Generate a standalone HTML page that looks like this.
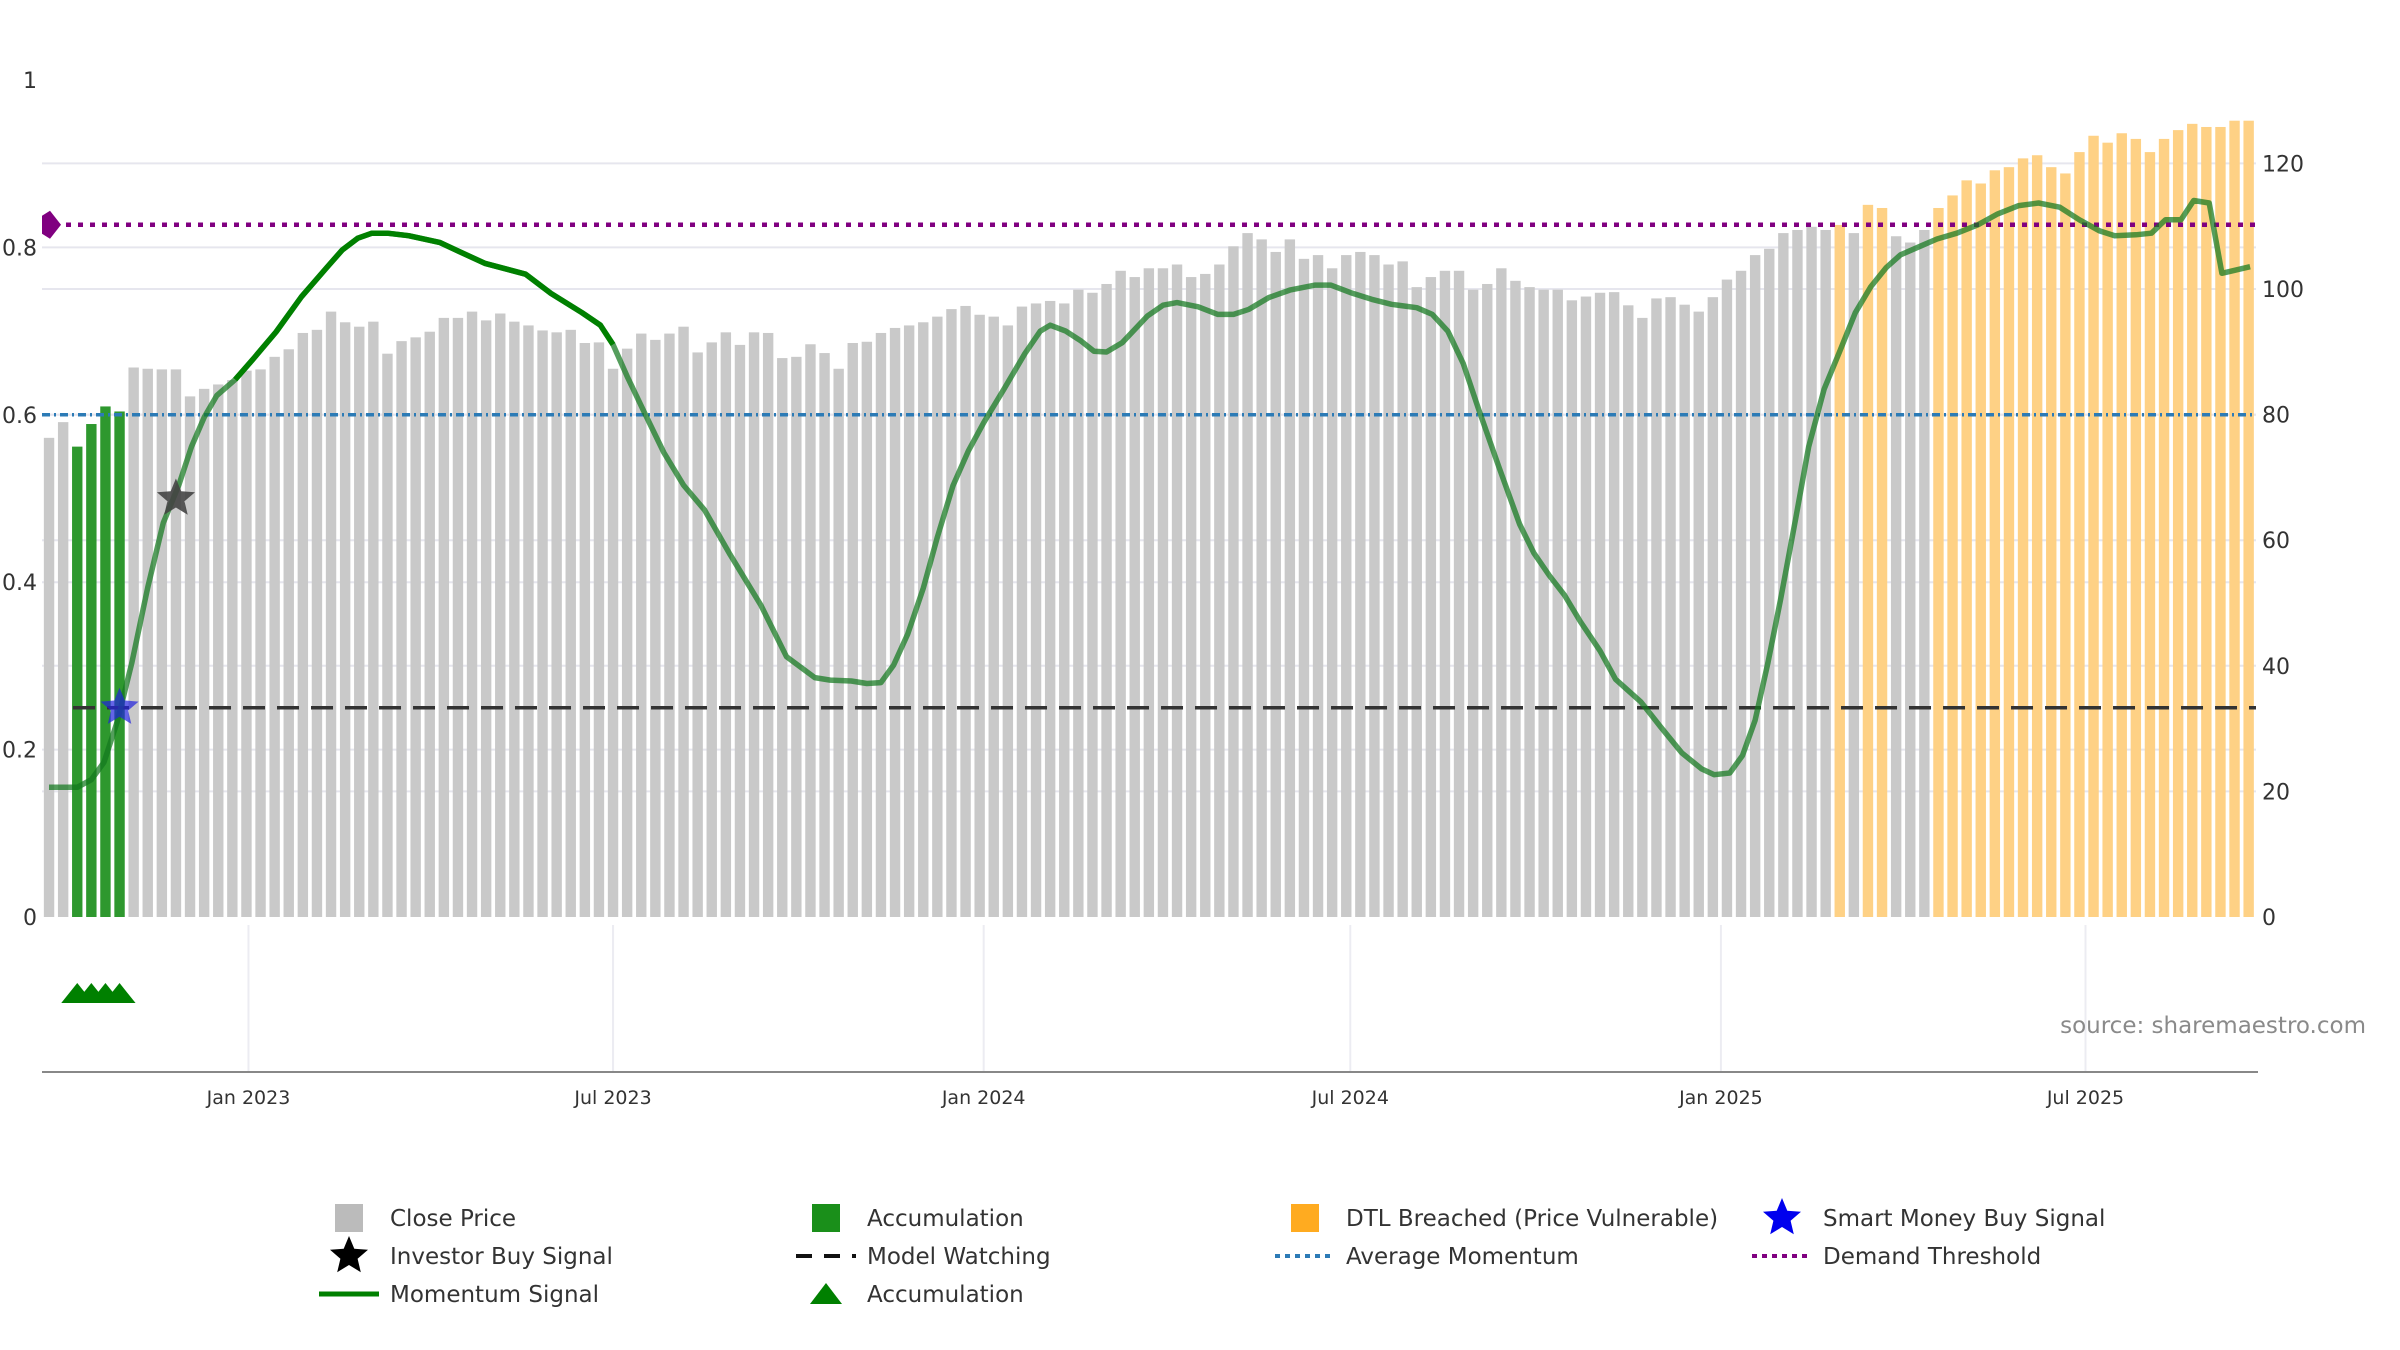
<!DOCTYPE html>
<html><head><meta charset="utf-8"><style>
body{margin:0;background:#fff;}
svg{display:block;font-family:"DejaVu Sans","Liberation Sans",sans-serif;}
</style></head><body>
<svg id="chart" width="2400" height="1350" viewBox="0 0 2400 1350" xmlns="http://www.w3.org/2000/svg">
<g id="grid"></g>
<g id="bars"></g>
<g id="refs"></g>
<g id="lines"></g>
<g id="marks"></g>
<g id="axes"></g>
<text x="2366" y="1033" text-anchor="end" font-size="23" fill="#8a8a8a">source: sharemaestro.com</text>
<g id="legend"></g>
</svg>
<script>
const prices = [76.3,78.8,74.9,78.5,81.3,80.5,87.5,87.3,87.2,87.2,
82.9,84.1,84.8,85.5,87.0,87.2,89.2,90.4,93.0,93.5,
96.4,94.7,94.0,94.8,89.7,91.7,92.3,93.2,95.4,95.4,
96.4,95.0,96.1,94.8,94.2,93.4,93.1,93.5,91.4,91.5,
87.3,90.5,92.9,91.9,92.9,94.0,89.9,91.5,93.1,91.1,
93.1,93.0,89.0,89.2,
91.2,89.8,87.3,91.4,91.6,93.0,93.8,94.2,94.7,95.6,
96.8,97.3,95.9,95.6,94.2,97.2,97.7,98.1,97.7,99.9,
99.4,100.8,102.9,101.9,103.3,103.3,103.9,101.9,102.4,103.9,
106.8,108.9,107.9,105.9,107.9,104.8,105.4,103.3,105.4,105.9,
105.4,103.9,104.4,100.3,101.9,102.9,102.9,99.9,100.8,103.3,
101.3,100.3,99.9,99.9,98.2,98.8,99.4,
99.5,97.4,95.4,98.5,98.7,97.5,96.4,98.7,101.5,102.9,
105.4,106.4,108.9,109.4,109.9,109.4,110.2,108.9,113.4,112.9,
108.4,107.4,109.4,112.9,114.9,117.3,116.8,118.9,119.4,120.8,
121.3,119.4,118.4,121.8,124.4,123.3,124.8,123.9,121.8,123.9,
125.3,126.3,125.8,125.8,126.8,126.8];
const accumBars = [2,3,4,5];
const dtlBars = [127,129,130,134,135,136,137,138,139,140,141,142,143,144,145,146,147,148,149,150,151,152,153,154,155,156];
const momX = [0,2,3,3.9,4.85,5.86,7,8.1,9.2,10.1,11,11.9,13.2,14.6,16.1,17.9,19.7,20.8,21.9,22.9,24,25.5,27.7,29.1,30.9,33.8,35.6,37.8,39.1,40,41,42.3,43.6,45,46.5,48.3,50.5,52.3,
54.3,55.4,56.9,58,59,59.9,60.9,62,63,64.1,65.2,66.3,67.7,69.2,70.3,71,72.1,73.2,74.1,75,76.1,77.9,79,80,81.5,82.9,84,85.1,86.5,88,89.8,90.9,92.3,93.8,95.2,97,98.1,99.2,100.3,101.4,102.8,104.3,105.3,106.4,107.5,108.6,
110,111.1,112.9,114.3,115.8,117.2,118.1,119.2,120.1,121,121.9,122.8,123.9,124.8,125.9,127,128.1,129.2,130.3,131.3,132.8,133.9,135.3,136.8,138.2,139.7,141.1,142.6,144,145.4,146.5,148,149.1,150.1,151.2,152.1,153.2,154.1,156.1];
const momY = [0.155,0.155,0.164,0.185,0.234,0.303,0.394,0.471,0.516,0.562,0.597,0.623,0.642,0.669,0.699,0.741,0.776,0.797,0.811,0.817,0.817,0.814,0.806,0.795,0.781,0.768,0.745,0.722,0.707,0.684,0.646,0.6,0.555,0.516,0.486,0.433,0.372,0.311,
0.286,0.283,0.282,0.279,0.28,0.301,0.338,0.393,0.454,0.515,0.557,0.591,0.63,0.673,0.7,0.707,0.7,0.688,0.676,0.675,0.686,0.718,0.731,0.734,0.729,0.72,0.72,0.726,0.74,0.749,0.755,0.755,0.746,0.738,0.732,0.728,0.72,0.7,0.661,0.606,0.539,0.469,0.435,0.408,0.384,0.353,
0.318,0.284,0.257,0.227,0.196,0.177,0.17,0.172,0.193,0.235,0.303,0.379,0.478,0.562,0.631,0.676,0.722,0.753,0.776,0.791,0.802,0.81,0.817,0.827,0.84,0.85,0.853,0.848,0.833,0.82,0.814,0.815,0.817,0.833,0.833,0.856,0.853,0.769,0.777];
const demandThreshold = 0.827;
const avgMomentum = 0.6;
const modelWatching = 0.25;
const investorBuy = [{i:9, v:0.5}];
const smartMoneyBuy = [{i:5, v:0.25}];
const leftTicks = [0,0.2,0.4,0.6,0.8,1];
const leftTickLabels = ["0","0.2","0.4","0.6","0.8","1"];
const rightTicks = [0,20,40,60,80,100,120];
const xTickDates = ["2023-01-01","2023-07-01","2024-01-01","2024-07-01","2025-01-01","2025-07-01"];
const xTickLabels = ["Jan 2023","Jul 2023","Jan 2024","Jul 2024","Jan 2025","Jul 2025"];
const startDate = "2022-09-24";

const NS="http://www.w3.org/2000/svg";
const L=42, R=2256, Y0=917, STEP=14.1;
const xIdx = i => L + (i+0.5)*STEP;
const yL = v => Y0 - v*837;
const yR = v => Y0 - v*6.28;
const xDate = d => xIdx((new Date(d) - new Date(startDate))/(7*86400000));
function mk(tag, attrs, parent){const e=document.createElementNS(NS,tag);for(const k in attrs)e.setAttribute(k,attrs[k]);parent.appendChild(e);return e;}
const G=id=>document.getElementById(id);

// grid
leftTicks.slice(1,5).forEach(v=>{const l=mk('line',{x1:L,x2:R,y1:yL(v),y2:yL(v),stroke:'#e6e6ee','stroke-width':2},G('grid'));

});
rightTicks.slice(1).forEach(v=>{const l=mk('line',{x1:L,x2:R,y1:yR(v),y2:yR(v),stroke:'#e6e6ee','stroke-width':2},G('grid'));

});
xTickDates.forEach(d=>{const l=mk('line',{x1:xDate(d),x2:xDate(d),y1:925,y2:1071,stroke:'#ececf2','stroke-width':2},G('grid'));

});

// bars
prices.forEach((p,i)=>{
  let fill='#c9c9c9', name='close-price-bar';
  if(accumBars.includes(i)){fill='#2e982e';name='accumulation-bar';}
  else if(dtlBars.includes(i)){fill='#fed185';name='dtl-breached-bar';}
  const r=mk('rect',{x:xIdx(i)-5.2,y:yR(p),width:10.4,height:Y0-yR(p),fill:fill},G('bars'));
  
  
});

// reference lines
const ref=[[demandThreshold,'#800080','5 7',4.5,'demand-threshold-line',L],[avgMomentum,'#2c7bb6','8 4 2 4',3.5,'average-momentum-line',L],[modelWatching,'#333','22 12',3.5,'model-watching-line',xIdx(1.7)]];
ref.forEach(r=>{const l=mk('line',{x1:r[5],x2:R,y1:yL(r[0]),y2:yL(r[0]),stroke:r[1],'stroke-dasharray':r[2],'stroke-width':r[3]},G('refs'));

});
const dm=mk('polygon',{points:'',fill:'#800080'},G('refs'));
{const cx=L+7,cy=yL(demandThreshold);dm.setAttribute('points',`${cx-7},${cy-9} ${cx+1},${cy-14} ${cx+12},${cy} ${cx+1},${cy+14} ${cx-7},${cy+9}`);}



// momentum line
const pts=momX.map((x,k)=>`${xIdx(x).toFixed(1)},${yL(momY[k]).toFixed(1)}`);
const ml=mk('polyline',{points:pts.join(' '),fill:'none',stroke:'rgba(20,120,30,0.72)','stroke-width':5.5,'stroke-linejoin':'round'},G('lines'));


const strongPts=momX.map((x,k)=>[x,momY[k]]).filter(p=>p[0]>=12.5&&p[0]<=40).map(p=>`${xIdx(p[0]).toFixed(1)},${yL(p[1]).toFixed(1)}`);
const sl=mk('polyline',{points:strongPts.join(' '),fill:'none',stroke:'#008000','stroke-width':5.5,'stroke-linejoin':'round'},G('lines'));



// markers
function star(cx,cy,r){let s='';for(let k=0;k<10;k++){const a=-Math.PI/2+k*Math.PI/5;const rr=k%2?r*0.45:r;s+=`${(cx+rr*Math.cos(a)).toFixed(1)},${(cy+rr*Math.sin(a)).toFixed(1)} `;}return s;}
investorBuy.forEach(s=>{const p=mk('polygon',{points:star(xIdx(s.i),yL(s.v),20),fill:'#444','fill-opacity':0.9},G('marks'));

});
smartMoneyBuy.forEach(s=>{const p=mk('polygon',{points:star(xIdx(s.i),yL(s.v),20),fill:'#2222dd','fill-opacity':0.7},G('marks'));

});
accumBars.forEach(i=>{const x=xIdx(i),y=993;const t=mk('polygon',{points:`${x-16},${y+10} ${x},${y-10} ${x+16},${y+10}`,fill:'#008000'},G('marks'));

});

// axes
const ax=G('axes');
const base=mk('line',{x1:L,x2:R+2,y1:1072,y2:1072,stroke:'#888','stroke-width':2},ax);


leftTicks.forEach((v,k)=>{const t=mk('text',{x:37,y:yL(v)+8,'text-anchor':'end','font-size':22,fill:'#333'},ax);t.textContent=leftTickLabels[k];

});
rightTicks.forEach(v=>{const t=mk('text',{x:2262,y:yR(v)+8,'font-size':22,fill:'#333'},ax);t.textContent=String(v);

});
xTickDates.forEach((d,k)=>{const t=mk('text',{x:xDate(d),y:1104,'text-anchor':'middle','font-size':19,fill:'#333'},ax);t.textContent=xTickLabels[k];

});

// legend
const lg=G('legend');
const entries=[
 [349,1218,'sq','#bbbbbb','Close Price'],[826,1218,'sq','#1a8f1a','Accumulation'],[1305,1218,'sq','#ffab20','DTL Breached (Price Vulnerable)'],[1782,1218,'star','#0000ee','Smart Money Buy Signal'],
 [349,1256,'star','#000','Investor Buy Signal'],[826,1256,'dash','#111','Model Watching'],[1305,1256,'dot','#2c7bb6','Average Momentum'],[1782,1256,'dot','#800080','Demand Threshold'],
 [349,1294,'line','#008000','Momentum Signal'],[826,1294,'tri','#008000','Accumulation']];
entries.forEach(e=>{
  const g=mk('g',{},lg);
  
  
  const [x,y,type,c,label]=e;
  if(type==='sq')mk('rect',{x:x-14,y:y-14,width:28,height:28,fill:c},g);
  if(type==='star')mk('polygon',{points:star(x,y,20),fill:c},g);
  if(type==='dash')mk('line',{x1:x-30,x2:x+30,y1:y,y2:y,stroke:c,'stroke-width':4,'stroke-dasharray':'16 12'},g);
  if(type==='dot')mk('line',{x1:x-30,x2:x+30,y1:y,y2:y,stroke:c,'stroke-width':4,'stroke-dasharray':'5 5'},g);
  if(type==='line')mk('line',{x1:x-30,x2:x+30,y1:y,y2:y,stroke:c,'stroke-width':5},g);
  if(type==='tri')mk('polygon',{points:`${x-16},${y+10} ${x},${y-11} ${x+16},${y+10}`,fill:c},g);
  const t=mk('text',{x:x+41,y:y+8,'font-size':23,fill:'#333'},g);t.textContent=label;
});
</script>
</body></html>
